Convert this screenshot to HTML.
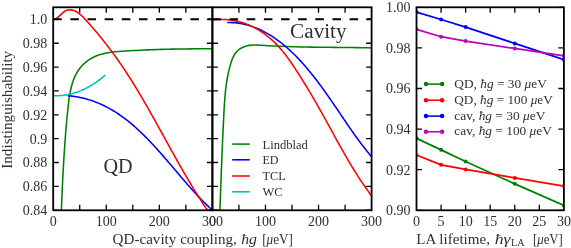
<!DOCTYPE html>
<html><head><meta charset="utf-8"><style>
html,body{margin:0;padding:0;background:#fff;width:571px;height:248px;overflow:hidden}
svg{display:block;will-change:transform;font-family:"Liberation Serif",serif}
</style></head><body>
<svg width="571" height="248" viewBox="0 0 571 248">
<rect width="571" height="248" fill="#fff"/>
<defs><clipPath id="c1"><rect x="53.20" y="7.30" width="159.20" height="203.00"/></clipPath>
<clipPath id="c2"><rect x="212.40" y="7.30" width="159.20" height="203.00"/></clipPath>
<clipPath id="c3"><rect x="416.50" y="7.30" width="147.40" height="203.00"/></clipPath></defs>
<g clip-path="url(#c1)" fill="none" stroke-width="1.55" stroke-linejoin="round" stroke-linecap="butt">
<path d="M61.23,213.15 L61.39,209.39 L61.55,205.66 L61.70,201.96 L61.86,198.29 L62.02,194.64 L62.18,191.02 L62.35,187.41 L62.52,183.83 L62.69,180.26 L62.87,176.70 L63.05,173.16 L63.24,169.62 L63.43,166.09 L63.63,162.57 L63.84,159.05 L64.06,155.53 L64.28,152.01 L64.52,148.49 L64.76,144.96 L65.02,141.42 L65.28,137.87 L65.56,134.31 L65.85,130.73 L66.15,127.14 L66.47,123.52 L66.80,119.89 L67.15,116.23 L67.51,112.54 L67.88,108.83 L68.28,105.10 L68.73,101.36 L69.24,97.63 L69.84,93.94 L70.54,90.30 L71.37,86.73 L72.35,83.24 L73.50,79.86 L74.83,76.60 L76.38,73.48 L78.16,70.53 L80.19,67.75 L82.48,65.17 L85.03,62.79 L87.80,60.63 L90.77,58.70 L93.91,57.01 L97.20,55.57 L100.60,54.39 L104.10,53.46 L107.67,52.75 L111.29,52.22 L114.95,51.82 L118.63,51.52 L122.30,51.26 L125.96,51.02 L129.61,50.80 L133.25,50.59 L136.87,50.40 L140.48,50.22 L144.08,50.05 L147.68,49.89 L151.27,49.75 L154.85,49.62 L158.43,49.50 L162.00,49.39 L165.58,49.30 L169.15,49.21 L172.72,49.13 L176.30,49.06 L179.88,49.00 L183.46,48.95 L187.05,48.91 L190.65,48.87 L194.25,48.84 L197.86,48.82 L201.49,48.80 L205.13,48.79 L208.78,48.79 L212.44,48.79" stroke="#008000"/>
<path d="M67.74,95.62 L70.28,95.87 L72.78,96.18 L75.25,96.54 L77.69,96.96 L80.10,97.43 L82.47,97.97 L84.82,98.55 L87.14,99.18 L89.43,99.87 L91.69,100.61 L93.92,101.39 L96.12,102.23 L98.30,103.11 L100.46,104.04 L102.58,105.01 L104.68,106.02 L106.76,107.08 L108.81,108.18 L110.84,109.31 L112.85,110.49 L114.84,111.71 L116.80,112.96 L118.74,114.24 L120.66,115.57 L122.57,116.92 L124.45,118.31 L126.31,119.73 L128.16,121.18 L129.99,122.66 L131.80,124.16 L133.59,125.70 L135.37,127.26 L137.13,128.84 L138.88,130.45 L140.62,132.08 L142.34,133.73 L144.04,135.40 L145.74,137.09 L147.42,138.80 L149.09,140.52 L150.75,142.26 L152.40,144.02 L154.04,145.79 L155.67,147.57 L157.30,149.36 L158.91,151.17 L160.52,152.98 L162.12,154.80 L163.71,156.63 L165.30,158.46 L166.88,160.30 L168.46,162.14 L170.04,163.99 L171.61,165.84 L173.18,167.68 L174.74,169.53 L176.30,171.37 L177.87,173.21 L179.43,175.05 L180.99,176.88 L182.55,178.71 L184.12,180.53 L185.68,182.34 L187.25,184.14 L188.82,185.92 L190.39,187.70 L191.97,189.47 L193.55,191.22 L195.14,192.95 L196.73,194.67 L198.32,196.37 L199.93,198.06 L201.54,199.72 L203.16,201.36 L204.79,202.99 L206.43,204.59 L208.07,206.16 L209.73,207.71 L211.40,209.23" stroke="#0000ff"/>
<path d="M53.26,19.39 L56.32,18.39 L59.02,16.32 L61.58,13.84 L64.23,11.56 L67.15,10.07 L70.28,9.69 L73.45,10.38 L76.43,11.74 L79.18,13.56 L81.73,15.73 L84.14,18.13 L86.47,20.67 L88.76,23.25 L91.03,25.82 L93.26,28.41 L95.47,31.00 L97.66,33.60 L99.82,36.21 L101.96,38.83 L104.06,41.46 L106.15,44.11 L108.21,46.77 L110.24,49.44 L112.25,52.14 L114.24,54.85 L116.20,57.57 L118.14,60.31 L120.06,63.07 L121.96,65.85 L123.83,68.63 L125.69,71.44 L127.52,74.25 L129.34,77.08 L131.15,79.92 L132.93,82.78 L134.70,85.64 L136.46,88.52 L138.20,91.40 L139.93,94.29 L141.65,97.20 L143.35,100.11 L145.05,103.03 L146.73,105.95 L148.41,108.88 L150.08,111.82 L151.74,114.76 L153.39,117.71 L155.04,120.66 L156.68,123.62 L158.32,126.58 L159.96,129.54 L161.60,132.50 L163.23,135.46 L164.86,138.42 L166.50,141.39 L168.13,144.35 L169.77,147.31 L171.40,150.27 L173.05,153.22 L174.69,156.18 L176.34,159.13 L178.00,162.07 L179.67,165.01 L181.34,167.95 L183.02,170.88 L184.71,173.80 L186.41,176.71 L188.12,179.62 L189.84,182.52 L191.58,185.41 L193.32,188.29 L195.09,191.16 L196.86,194.02 L198.66,196.86 L200.47,199.70 L202.29,202.52 L204.14,205.33 L206.00,208.13 L207.89,210.91" stroke="#ff0000"/>
<path d="M53.19,95.59 L53.92,95.64 L54.66,95.67 L55.40,95.69 L56.13,95.70 L56.86,95.70 L57.60,95.69 L58.33,95.68 L59.06,95.65 L59.79,95.61 L60.52,95.57 L61.24,95.51 L61.97,95.45 L62.69,95.38 L63.41,95.29 L64.14,95.20 L64.86,95.10 L65.57,95.00 L66.29,94.88 L67.01,94.75 L67.72,94.62 L68.43,94.48 L69.14,94.33 L69.85,94.17 L70.56,94.01 L71.26,93.83 L71.96,93.65 L72.66,93.46 L73.36,93.26 L74.06,93.06 L74.75,92.85 L75.45,92.63 L76.14,92.40 L76.82,92.16 L77.51,91.92 L78.19,91.67 L78.88,91.42 L79.55,91.15 L80.23,90.88 L80.91,90.61 L81.58,90.32 L82.25,90.03 L82.91,89.74 L83.58,89.44 L84.24,89.13 L84.90,88.81 L85.55,88.49 L86.21,88.16 L86.86,87.83 L87.50,87.49 L88.15,87.14 L88.79,86.79 L89.43,86.44 L90.06,86.08 L90.69,85.71 L91.32,85.34 L91.95,84.96 L92.57,84.57 L93.19,84.19 L93.81,83.79 L94.42,83.39 L95.03,82.99 L95.64,82.58 L96.24,82.17 L96.84,81.75 L97.44,81.33 L98.03,80.90 L98.62,80.47 L99.20,80.04 L99.78,79.60 L100.36,79.16 L100.93,78.71 L101.50,78.26 L102.07,77.80 L102.63,77.34 L103.19,76.88 L103.74,76.42 L104.29,75.95 L104.84,75.47 L105.38,75.00" stroke="#00bfbf"/>
<path d="M53.20,19.2 H212.40" stroke="#000" stroke-width="2" stroke-dasharray="8.575 8.575"/>
</g>
<g clip-path="url(#c2)" fill="none" stroke-width="1.55" stroke-linejoin="round">
<path d="M219.83,213.03 L219.96,209.19 L220.10,205.37 L220.23,201.55 L220.37,197.73 L220.51,193.92 L220.64,190.11 L220.78,186.31 L220.92,182.51 L221.06,178.71 L221.21,174.91 L221.35,171.12 L221.50,167.33 L221.65,163.53 L221.80,159.74 L221.95,155.96 L222.11,152.17 L222.27,148.38 L222.43,144.59 L222.59,140.80 L222.76,137.00 L222.93,133.21 L223.11,129.41 L223.29,125.61 L223.47,121.81 L223.66,118.01 L223.85,114.20 L224.05,110.39 L224.27,106.57 L224.51,102.76 L224.78,98.94 L225.10,95.13 L225.47,91.32 L225.91,87.52 L226.42,83.72 L227.00,79.92 L227.68,76.14 L228.46,72.37 L229.35,68.61 L230.36,64.86 L231.51,61.15 L232.89,57.59 L234.60,54.33 L236.76,51.51 L239.38,49.22 L242.41,47.44 L245.76,46.16 L249.36,45.36 L253.13,45.00 L257.01,44.98 L260.96,45.17 L264.91,45.43 L268.84,45.67 L272.75,45.90 L276.63,46.10 L280.49,46.28 L284.34,46.44 L288.16,46.58 L291.98,46.70 L295.78,46.81 L299.56,46.91 L303.34,46.99 L307.11,47.07 L310.87,47.13 L314.63,47.19 L318.39,47.23 L322.14,47.28 L325.89,47.31 L329.65,47.35 L333.41,47.38 L337.18,47.41 L340.96,47.45 L344.74,47.48 L348.54,47.52 L352.35,47.57 L356.17,47.62 L360.01,47.68 L363.87,47.74 L367.75,47.82 L371.65,47.91" stroke="#008000"/>
<path d="M227.24,22.49 L229.99,22.50 L232.70,22.62 L235.37,22.83 L238.01,23.14 L240.61,23.55 L243.18,24.04 L245.72,24.62 L248.22,25.29 L250.69,26.03 L253.13,26.86 L255.53,27.76 L257.90,28.74 L260.24,29.78 L262.54,30.89 L264.82,32.07 L267.06,33.31 L269.27,34.61 L271.45,35.96 L273.60,37.37 L275.72,38.82 L277.82,40.33 L279.88,41.88 L281.91,43.47 L283.91,45.10 L285.88,46.77 L287.83,48.47 L289.75,50.20 L291.64,51.96 L293.50,53.74 L295.33,55.55 L297.15,57.39 L298.93,59.25 L300.70,61.14 L302.44,63.05 L304.16,64.98 L305.86,66.93 L307.54,68.90 L309.20,70.89 L310.84,72.89 L312.47,74.92 L314.07,76.96 L315.67,79.01 L317.25,81.08 L318.81,83.16 L320.36,85.25 L321.90,87.36 L323.43,89.47 L324.95,91.60 L326.46,93.73 L327.96,95.87 L329.46,98.02 L330.94,100.17 L332.42,102.33 L333.90,104.49 L335.37,106.65 L336.84,108.81 L338.31,110.98 L339.77,113.14 L341.23,115.31 L342.70,117.47 L344.16,119.63 L345.63,121.79 L347.10,123.94 L348.58,126.08 L350.05,128.22 L351.54,130.35 L353.03,132.47 L354.53,134.58 L356.03,136.69 L357.55,138.78 L359.07,140.85 L360.61,142.92 L362.16,144.97 L363.72,147.01 L365.29,149.02 L366.88,151.03 L368.48,153.01 L370.10,154.98 L371.73,156.92" stroke="#0000ff"/>
<path d="M212.18,19.92 L215.44,19.63 L218.69,19.48 L221.94,19.46 L225.16,19.57 L228.37,19.82 L231.54,20.20 L234.68,20.72 L237.79,21.38 L240.84,22.16 L243.85,23.09 L246.80,24.15 L249.70,25.33 L252.54,26.64 L255.32,28.07 L258.04,29.60 L260.70,31.25 L263.30,33.00 L265.83,34.85 L268.30,36.79 L270.71,38.82 L273.04,40.94 L275.31,43.13 L277.50,45.39 L279.63,47.73 L281.70,50.12 L283.71,52.57 L285.67,55.07 L287.58,57.62 L289.45,60.20 L291.28,62.81 L293.08,65.46 L294.85,68.12 L296.59,70.80 L298.31,73.49 L300.02,76.18 L301.71,78.87 L303.40,81.56 L305.07,84.26 L306.72,86.95 L308.37,89.66 L310.00,92.36 L311.61,95.08 L313.22,97.80 L314.81,100.53 L316.39,103.27 L317.95,106.01 L319.51,108.77 L321.06,111.53 L322.60,114.29 L324.13,117.07 L325.66,119.84 L327.18,122.62 L328.70,125.40 L330.22,128.18 L331.74,130.96 L333.26,133.75 L334.79,136.53 L336.31,139.31 L337.85,142.08 L339.38,144.86 L340.93,147.63 L342.49,150.39 L344.05,153.15 L345.63,155.90 L347.22,158.64 L348.82,161.37 L350.44,164.10 L352.08,166.81 L353.73,169.51 L355.41,172.21 L357.10,174.88 L358.82,177.55 L360.56,180.20 L362.32,182.83 L364.11,185.45 L365.93,188.05 L367.78,190.63 L369.65,193.19 L371.56,195.74" stroke="#ff0000"/>
<path d="M212.40,19.2 H371.60" stroke="#000" stroke-width="2" stroke-dasharray="8.575 8.575"/>
</g>
<g clip-path="url(#c3)" fill="none" stroke-width="1.75" stroke-linejoin="round">
<path d="M416.50,138.34 L441.07,149.85 L465.63,161.46 L514.77,183.87 L563.90,205.43" stroke="#008000"/>
<circle cx="416.50" cy="138.34" r="2.0" fill="#008000" stroke="none"/>
<circle cx="441.07" cy="149.85" r="2.0" fill="#008000" stroke="none"/>
<circle cx="465.63" cy="161.46" r="2.0" fill="#008000" stroke="none"/>
<circle cx="514.77" cy="183.87" r="2.0" fill="#008000" stroke="none"/>
<circle cx="563.90" cy="205.43" r="2.0" fill="#008000" stroke="none"/>
<path d="M416.50,154.94 L441.07,164.85 L465.63,169.46 L514.77,177.96 L563.90,186.08" stroke="#ff0000"/>
<circle cx="416.50" cy="154.94" r="2.0" fill="#ff0000" stroke="none"/>
<circle cx="441.07" cy="164.85" r="2.0" fill="#ff0000" stroke="none"/>
<circle cx="465.63" cy="169.46" r="2.0" fill="#ff0000" stroke="none"/>
<circle cx="514.77" cy="177.96" r="2.0" fill="#ff0000" stroke="none"/>
<circle cx="563.90" cy="186.08" r="2.0" fill="#ff0000" stroke="none"/>
<path d="M416.50,12.11 L441.07,19.52 L465.63,27.11 L514.77,43.43 L563.90,59.65" stroke="#0000ff"/>
<circle cx="416.50" cy="12.11" r="2.0" fill="#0000ff" stroke="none"/>
<circle cx="441.07" cy="19.52" r="2.0" fill="#0000ff" stroke="none"/>
<circle cx="465.63" cy="27.11" r="2.0" fill="#0000ff" stroke="none"/>
<circle cx="514.77" cy="43.43" r="2.0" fill="#0000ff" stroke="none"/>
<circle cx="563.90" cy="59.65" r="2.0" fill="#0000ff" stroke="none"/>
<path d="M416.50,29.33 L441.07,36.73 L465.63,41.04 L514.77,48.45 L563.90,55.86" stroke="#bf00bf"/>
<circle cx="416.50" cy="29.33" r="2.0" fill="#bf00bf" stroke="none"/>
<circle cx="441.07" cy="36.73" r="2.0" fill="#bf00bf" stroke="none"/>
<circle cx="465.63" cy="41.04" r="2.0" fill="#bf00bf" stroke="none"/>
<circle cx="514.77" cy="48.45" r="2.0" fill="#bf00bf" stroke="none"/>
<circle cx="563.90" cy="55.86" r="2.0" fill="#bf00bf" stroke="none"/>
</g>
<rect x="53.20" y="7.30" width="159.20" height="203.00" fill="none" stroke="#000" stroke-width="1.80"/>
<path d="M53.20,19.40 h5.50 M212.40,19.40 h-5.50 M53.20,43.25 h5.50 M212.40,43.25 h-5.50 M53.20,67.10 h5.50 M212.40,67.10 h-5.50 M53.20,90.95 h5.50 M212.40,90.95 h-5.50 M53.20,114.80 h5.50 M212.40,114.80 h-5.50 M53.20,138.65 h5.50 M212.40,138.65 h-5.50 M53.20,162.50 h5.50 M212.40,162.50 h-5.50 M53.20,186.35 h5.50 M212.40,186.35 h-5.50 M53.20,210.20 h5.50 M212.40,210.20 h-5.50 M79.73,7.30 v5.50 M79.73,210.30 v-5.50 M106.27,7.30 v5.50 M106.27,210.30 v-5.50 M132.80,7.30 v5.50 M132.80,210.30 v-5.50 M159.33,7.30 v5.50 M159.33,210.30 v-5.50 M185.87,7.30 v5.50 M185.87,210.30 v-5.50 " stroke="#000" stroke-width="1.3" fill="none"/>
<rect x="212.40" y="7.30" width="159.20" height="203.00" fill="none" stroke="#000" stroke-width="1.80"/>
<path d="M212.40,19.40 h5.50 M371.60,19.40 h-5.50 M212.40,43.25 h5.50 M371.60,43.25 h-5.50 M212.40,67.10 h5.50 M371.60,67.10 h-5.50 M212.40,90.95 h5.50 M371.60,90.95 h-5.50 M212.40,114.80 h5.50 M371.60,114.80 h-5.50 M212.40,138.65 h5.50 M371.60,138.65 h-5.50 M212.40,162.50 h5.50 M371.60,162.50 h-5.50 M212.40,186.35 h5.50 M371.60,186.35 h-5.50 M212.40,210.20 h5.50 M371.60,210.20 h-5.50 M238.93,7.30 v5.50 M238.93,210.30 v-5.50 M265.47,7.30 v5.50 M265.47,210.30 v-5.50 M292.00,7.30 v5.50 M292.00,210.30 v-5.50 M318.53,7.30 v5.50 M318.53,210.30 v-5.50 M345.07,7.30 v5.50 M345.07,210.30 v-5.50 " stroke="#000" stroke-width="1.3" fill="none"/>
<rect x="416.50" y="7.30" width="147.40" height="203.00" fill="none" stroke="#000" stroke-width="1.80"/>
<path d="M416.50,7.30 h5.50 M563.90,7.30 h-5.50 M416.50,47.90 h5.50 M563.90,47.90 h-5.50 M416.50,88.50 h5.50 M563.90,88.50 h-5.50 M416.50,129.10 h5.50 M563.90,129.10 h-5.50 M416.50,169.70 h5.50 M563.90,169.70 h-5.50 M416.50,210.30 h5.50 M563.90,210.30 h-5.50 M441.07,7.30 v5.50 M441.07,210.30 v-5.50 M465.63,7.30 v5.50 M465.63,210.30 v-5.50 M490.20,7.30 v5.50 M490.20,210.30 v-5.50 M514.77,7.30 v5.50 M514.77,210.30 v-5.50 M539.33,7.30 v5.50 M539.33,210.30 v-5.50 " stroke="#000" stroke-width="1.3" fill="none"/>
<g font-family="Liberation Serif, serif" fill="#303030">
<text x="47.3" y="24.30" font-size="14" text-anchor="end">1.0</text>
<text x="47.3" y="48.15" font-size="14" text-anchor="end">0.98</text>
<text x="47.3" y="72.00" font-size="14" text-anchor="end">0.96</text>
<text x="47.3" y="95.85" font-size="14" text-anchor="end">0.94</text>
<text x="47.3" y="119.70" font-size="14" text-anchor="end">0.92</text>
<text x="47.3" y="143.55" font-size="14" text-anchor="end">0.9</text>
<text x="47.3" y="167.40" font-size="14" text-anchor="end">0.88</text>
<text x="47.3" y="191.25" font-size="14" text-anchor="end">0.86</text>
<text x="47.3" y="215.10" font-size="14" text-anchor="end">0.84</text>
<text x="410.5" y="12.20" font-size="14" text-anchor="end">1.00</text>
<text x="410.5" y="52.80" font-size="14" text-anchor="end">0.98</text>
<text x="410.5" y="93.40" font-size="14" text-anchor="end">0.96</text>
<text x="410.5" y="134.00" font-size="14" text-anchor="end">0.94</text>
<text x="410.5" y="174.60" font-size="14" text-anchor="end">0.92</text>
<text x="410.5" y="215.20" font-size="14" text-anchor="end">0.90</text>
<text x="53.20" y="226.2" font-size="14" text-anchor="middle">0</text>
<text x="106.27" y="226.2" font-size="14" text-anchor="middle">100</text>
<text x="159.33" y="226.2" font-size="14" text-anchor="middle">200</text>
<text x="212.40" y="226.2" font-size="14" text-anchor="middle">300</text>
<text x="212.40" y="226.2" font-size="14" text-anchor="middle">0</text>
<text x="265.47" y="226.2" font-size="14" text-anchor="middle">100</text>
<text x="318.53" y="226.2" font-size="14" text-anchor="middle">200</text>
<text x="371.60" y="226.2" font-size="14" text-anchor="middle">300</text>
<text x="416.50" y="226.2" font-size="14" text-anchor="middle">0</text>
<text x="441.07" y="226.2" font-size="14" text-anchor="middle">5</text>
<text x="465.63" y="226.2" font-size="14" text-anchor="middle">10</text>
<text x="490.20" y="226.2" font-size="14" text-anchor="middle">15</text>
<text x="514.77" y="226.2" font-size="14" text-anchor="middle">20</text>
<text x="539.33" y="226.2" font-size="14" text-anchor="middle">25</text>
<text x="563.90" y="226.2" font-size="14" text-anchor="middle">30</text>
<text x="112.6" y="244.3" font-size="14.5" textLength="124.2" lengthAdjust="spacingAndGlyphs">QD-cavity coupling,</text>
<text x="241.2" y="244.3" font-size="14.5" font-style="italic" textLength="15.7" lengthAdjust="spacingAndGlyphs">ħg</text>
<text x="262.2" y="244.3" font-size="14.5" textLength="30.6" lengthAdjust="spacingAndGlyphs">[<tspan font-style="italic">μ</tspan>eV]</text>
<text x="416.3" y="243.6" font-size="14.5" textLength="73.7" lengthAdjust="spacingAndGlyphs">LA lifetime,</text>
<text x="494.7" y="243.6" font-size="14.5" font-style="italic" textLength="15.8" lengthAdjust="spacingAndGlyphs">ħγ</text>
<text x="511.0" y="245.6" font-size="10" textLength="13.6" lengthAdjust="spacingAndGlyphs">LA</text>
<text x="533.0" y="243.6" font-size="14.5" textLength="29.9" lengthAdjust="spacingAndGlyphs">[<tspan font-style="italic">μ</tspan>eV]</text>
<text transform="translate(11.6,168.8) rotate(-90)" x="0" y="0" font-size="14" textLength="118" lengthAdjust="spacingAndGlyphs">Indistinguishability</text>
<text x="103.5" y="173.1" font-size="20" textLength="29.2" lengthAdjust="spacingAndGlyphs">QD</text>
<text x="290.1" y="37.9" font-size="20.5" textLength="56.5" lengthAdjust="spacingAndGlyphs">Cavity</text>
</g>
<path d="M232.2,144.10 H249.8" stroke="#008000" stroke-width="1.55"/>
<text x="262.5" y="148.70" font-family="Liberation Serif, serif" fill="#303030" font-size="12.5" textLength="45.4" lengthAdjust="spacingAndGlyphs">Lindblad</text>
<path d="M232.2,159.80 H249.8" stroke="#0000ff" stroke-width="1.55"/>
<text x="262.5" y="164.30" font-family="Liberation Serif, serif" fill="#303030" font-size="12.5" textLength="16.1" lengthAdjust="spacingAndGlyphs">ED</text>
<path d="M232.2,176.00 H249.8" stroke="#ff0000" stroke-width="1.55"/>
<text x="262.5" y="180.40" font-family="Liberation Serif, serif" fill="#303030" font-size="12.5" textLength="23.2" lengthAdjust="spacingAndGlyphs">TCL</text>
<path d="M232.2,191.80 H249.8" stroke="#00bfbf" stroke-width="1.55"/>
<text x="262.5" y="196.30" font-family="Liberation Serif, serif" fill="#303030" font-size="12.5" textLength="20.2" lengthAdjust="spacingAndGlyphs">WC</text>
<path d="M426.0,84.10 H442.1" stroke="#008000" stroke-width="1.55"/>
<circle cx="426.0" cy="84.10" r="2.25" fill="#008000"/><circle cx="442.1" cy="84.10" r="2.25" fill="#008000"/>
<text x="454.3" y="88.00" font-family="Liberation Serif, serif" fill="#303030" font-size="12.5" textLength="92.5" lengthAdjust="spacingAndGlyphs">QD, <tspan font-style="italic">ħg</tspan> = 30 <tspan font-style="italic">μ</tspan>eV</text>
<path d="M426.0,100.20 H442.1" stroke="#ff0000" stroke-width="1.55"/>
<circle cx="426.0" cy="100.20" r="2.25" fill="#ff0000"/><circle cx="442.1" cy="100.20" r="2.25" fill="#ff0000"/>
<text x="454.3" y="103.90" font-family="Liberation Serif, serif" fill="#303030" font-size="12.5" textLength="98.5" lengthAdjust="spacingAndGlyphs">QD, <tspan font-style="italic">ħg</tspan> = 100 <tspan font-style="italic">μ</tspan>eV</text>
<path d="M426.0,116.10 H442.1" stroke="#0000ff" stroke-width="1.55"/>
<circle cx="426.0" cy="116.10" r="2.25" fill="#0000ff"/><circle cx="442.1" cy="116.10" r="2.25" fill="#0000ff"/>
<text x="454.3" y="119.50" font-family="Liberation Serif, serif" fill="#303030" font-size="12.5" textLength="91.0" lengthAdjust="spacingAndGlyphs">cav, <tspan font-style="italic">ħg</tspan> = 30 <tspan font-style="italic">μ</tspan>eV</text>
<path d="M426.0,131.80 H442.1" stroke="#bf00bf" stroke-width="1.55"/>
<circle cx="426.0" cy="131.80" r="2.25" fill="#bf00bf"/><circle cx="442.1" cy="131.80" r="2.25" fill="#bf00bf"/>
<text x="454.3" y="135.10" font-family="Liberation Serif, serif" fill="#303030" font-size="12.5" textLength="97.6" lengthAdjust="spacingAndGlyphs">cav, <tspan font-style="italic">ħg</tspan> = 100 <tspan font-style="italic">μ</tspan>eV</text>
</svg>
</body></html>
